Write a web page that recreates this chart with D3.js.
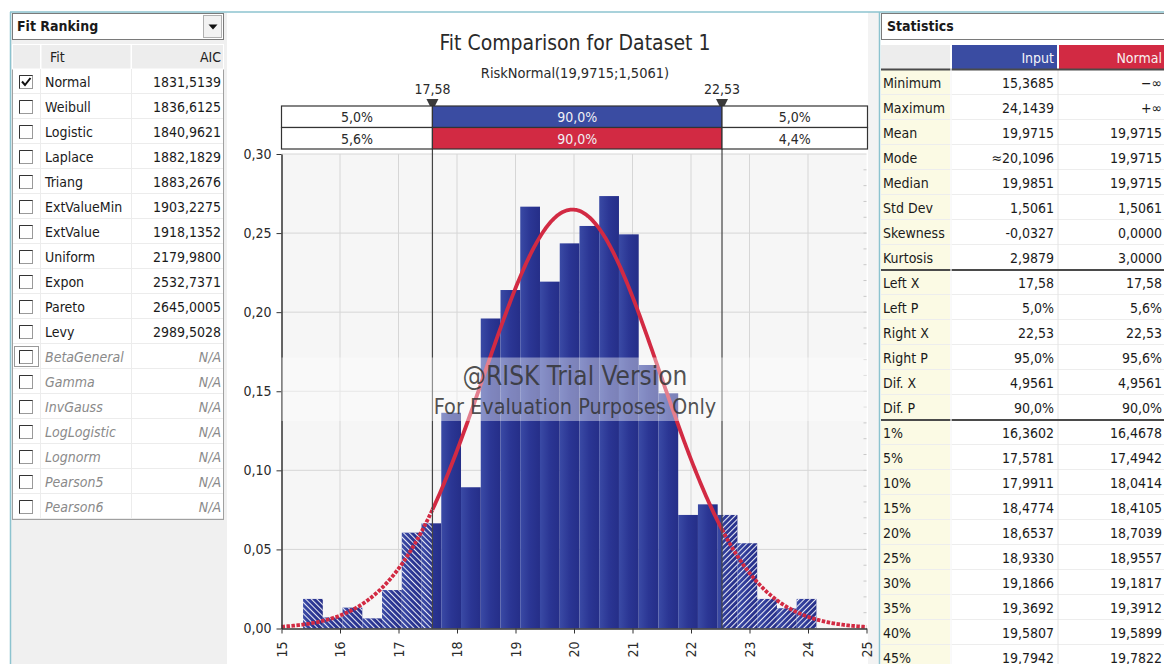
<!DOCTYPE html>
<html>
<head>
<meta charset="utf-8">
<script src="https://cdn.jsdelivr.net/npm/d3@7"></script>
<style>
body{margin:0;background:#fff;}
svg{display:block;}
text{font-family:"DejaVu Sans Condensed","DejaVu Sans",sans-serif;}
</style>
</head>
<body>
<svg id="chart"></svg>
<script>
// ---- data ----
var binStart = 15.3685;
var binEnd = 24.1439;
var binDensity = [0.0187, 0.0070, 0.0132, 0.0064, 0.0243, 0.0606, 0.0665, 0.1364,
                  0.0893, 0.1960, 0.2140, 0.2667, 0.2193, 0.2435, 0.2545, 0.2734,
                  0.2492, 0.1666, 0.1487, 0.0718, 0.0785, 0.0718, 0.0539, 0.0187,
                  0.0128, 0.0187];
var fitMean = 19.9715;
var fitStd = 1.5061;
var leftX = 17.58;
var rightX = 22.53;
var inputPct = ["5,0%", "90,0%", "5,0%"];
var fitPct = ["5,6%", "90,0%", "4,4%"];
var xTicks = [15, 16, 17, 18, 19, 20, 21, 22, 23, 24, 25];
var yTicks = [0, 0.05, 0.10, 0.15, 0.20, 0.25, 0.30];

var fitNames = ["Normal", "Weibull", "Logistic", "Laplace", "Triang", "ExtValueMin", "ExtValue",
                "Uniform", "Expon", "Pareto", "Levy", "BetaGeneral", "Gamma", "InvGauss",
                "LogLogistic", "Lognorm", "Pearson5", "Pearson6"];
var fitAIC = [1831.5139, 1836.6125, 1840.9621, 1882.1829, 1883.2676, 1903.2275, 1918.1352,
              2179.9800, 2532.7371, 2645.0005, 2989.5028, null, null, null, null, null, null, null];

var statLabels = ["Minimum", "Maximum", "Mean", "Mode", "Median", "Std Dev", "Skewness", "Kurtosis",
                  "Left X", "Left P", "Right X", "Right P", "Dif. X", "Dif. P",
                  "1%", "5%", "10%", "15%", "20%", "25%", "30%", "35%", "40%", "45%"];
var inputStats = ["15,3685", "24,1439", "19,9715", "\u224820,1096", "19,9851", "1,5061", "-0,0327", "2,9879",
                  "17,58", "5,0%", "22,53", "95,0%", "4,9561", "90,0%",
                  "16,3602", "17,5781", "17,9911", "18,4774", "18,6537", "18,9330", "19,1866", "19,3692", "19,5807", "19,7942"];
var normalStats = ["\u2212\u221E", "+\u221E", "19,9715", "19,9715", "19,9715", "1,5061", "0,0000", "3,0000",
                   "17,58", "5,6%", "22,53", "95,6%", "4,9561", "90,0%",
                   "16,4678", "17,4942", "18,0414", "18,4105", "18,7039", "18,9557", "19,1817", "19,3912", "19,5899", "19,7822"];

// ---- setup ----
var W = 1164, H = 664;
var BLUE = "#3a4ca2", RED = "#d22a43", TEAL = "#8cc3cf";
var loc = d3.formatLocale({decimal: ",", thousands: "", grouping: [3], currency: ["", ""]});
var svg = d3.select("#chart").attr("width", W).attr("height", H);
var defs = svg.append("defs");

// frame lines
svg.append("rect").attr("x", 10).attr("y", 12).attr("width", 217).attr("height", H - 12).attr("fill", "#f0f0f0");
svg.append("rect").attr("x", 868).attr("y", 12).attr("width", 11).attr("height", H - 12).attr("fill", "#f3f3f3");
svg.append("line").attr("x1", 10).attr("x2", W).attr("y1", 12).attr("y2", 12).attr("stroke", TEAL).attr("stroke-width", 1.5);
svg.append("line").attr("x1", 10.5).attr("x2", 10.5).attr("y1", 12).attr("y2", H).attr("stroke", TEAL).attr("stroke-width", 1.5);
svg.append("line").attr("x1", 879.5).attr("x2", 879.5).attr("y1", 12).attr("y2", H).attr("stroke", TEAL).attr("stroke-width", 1.5);

// ---- left panel: Fit Ranking ----
var lp = svg.append("g");
lp.append("rect").attr("x", 12.5).attr("y", 13.5).attr("width", 211).attr("height", 26)
  .attr("fill", "#fff").attr("stroke", "#7a7a7a");
lp.append("text").attr("x", 17).attr("y", 31).text("Fit Ranking")
  .style("font-size", "14px").style("font-weight", "bold").attr("fill", "#1a1a1a");
lp.append("rect").attr("x", 203.5).attr("y", 15.5).attr("width", 18).attr("height", 22)
  .attr("fill", "#f2f2f2").attr("stroke", "#b0b0b0");
lp.append("path").attr("d", "M208.5,24.5 L217.5,24.5 L213,29.5 Z").attr("fill", "#111");

var tableTop = 44, rowH = 25;
lp.append("rect").attr("x", 12.5).attr("y", tableTop + 0.5).attr("width", 211).attr("height", 25 + rowH * fitNames.length)
  .attr("fill", "#fff").attr("stroke", "#a0a0a0");
// header
[[12.5, 28], [41, 90], [131.5, 92]].forEach(function (c) {
  lp.append("rect").attr("x", c[0]).attr("y", tableTop + 0.5).attr("width", c[1]).attr("height", 24.5)
    .attr("fill", "#ededed").attr("stroke", "#fff");
});
lp.append("text").attr("x", 50).attr("y", 62).text("Fit").style("font-size", "14px").attr("fill", "#222");
lp.append("text").attr("x", 221).attr("y", 62).attr("text-anchor", "end").text("AIC").style("font-size", "14px").attr("fill", "#222");

var rows = lp.selectAll(".fitrow").data(fitNames).enter().append("g")
  .attr("class", "fitrow")
  .attr("transform", function (d, i) { return "translate(0," + (69 + rowH * i) + ")"; });
rows.append("line").attr("x1", 13).attr("x2", 223).attr("y1", rowH - 0.5).attr("y2", rowH - 0.5).attr("stroke", "#ececec");
rows.append("line").attr("x1", 40.5).attr("x2", 40.5).attr("y1", 0).attr("y2", rowH).attr("stroke", "#ececec");
rows.append("line").attr("x1", 131.5).attr("x2", 131.5).attr("y1", 0).attr("y2", rowH).attr("stroke", "#ececec");
rows.append("rect").attr("x", 19.5).attr("y", 6.5).attr("width", 13).attr("height", 13)
  .attr("fill", "#fff").attr("stroke", "#9a9a9a");
rows.append("path").attr("d", "M19.5,19.5 L19.5,6.5 L32.5,6.5").attr("fill", "none").attr("stroke", "#333");
rows.filter(function (d, i) { return i === 0; }).append("path")
  .attr("d", "M22,12.5 L25,16 L30.5,9").attr("fill", "none").attr("stroke", "#111").attr("stroke-width", 2);
rows.filter(function (d) { return d === "BetaGeneral"; }).append("rect")
  .attr("x", 14.5).attr("y", 2.5).attr("width", 24).attr("height", 20)
  .attr("fill", "none").attr("stroke", "#333").attr("stroke-dasharray", "1,1");
rows.append("text").attr("x", 45).attr("y", 17.5).text(function (d) { return d; })
  .style("font-size", "14px")
  .style("font-style", function (d, i) { return fitAIC[i] === null ? "italic" : "normal"; })
  .attr("fill", function (d, i) { return fitAIC[i] === null ? "#8a8a8a" : "#1a1a1a"; });
rows.append("text").attr("x", 221).attr("y", 17.5).attr("text-anchor", "end")
  .text(function (d, i) { return fitAIC[i] === null ? "N/A" : loc.format(".4f")(fitAIC[i]); })
  .style("font-size", "14px")
  .style("font-style", function (d, i) { return fitAIC[i] === null ? "italic" : "normal"; })
  .attr("fill", function (d, i) { return fitAIC[i] === null ? "#8a8a8a" : "#1a1a1a"; });

// ---- center chart ----
var x = d3.scaleLinear().domain([15, 25]).range([281.5, 866.5]);
var y = d3.scaleLinear().domain([0, 0.30]).range([628.5, 154]);

svg.append("text").attr("x", 575).attr("y", 50).attr("text-anchor", "middle")
  .text("Fit Comparison for Dataset 1").style("font-size", "21px").attr("fill", "#2a2a2a");
svg.append("text").attr("x", 575).attr("y", 78).attr("text-anchor", "middle")
  .text("RiskNormal(" + loc.format(".4f")(fitMean) + ";" + loc.format(".4f")(fitStd) + ")")
  .style("font-size", "14.5px").attr("fill", "#2a2a2a");

// plot background and grid
svg.append("rect").attr("x", x(15)).attr("y", y(0.30)).attr("width", x(25) - x(15)).attr("height", y(0) - y(0.30))
  .attr("fill", "#f6f6f6");
svg.append("g").selectAll("line").data(xTicks.slice(1, -1)).enter().append("line")
  .attr("x1", function (d) { return x(d); }).attr("x2", function (d) { return x(d); })
  .attr("y1", y(0.30)).attr("y2", y(0)).attr("stroke", "#d6d6d6");
svg.append("g").selectAll("line").data(yTicks.slice(1)).enter().append("line")
  .attr("x1", x(15)).attr("x2", x(25))
  .attr("y1", function (d) { return y(d); }).attr("y2", function (d) { return y(d); }).attr("stroke", "#d6d6d6");
// faint minor ticks on the right edge
svg.append("g").selectAll("line").data(d3.range(1, 30)).enter().append("line")
  .attr("x1", x(25) - 3).attr("x2", x(25))
  .attr("y1", function (d) { return y(d / 100); }).attr("y2", function (d) { return y(d / 100); })
  .attr("stroke", "#c8c8c8");

// bars
var binW = (binEnd - binStart) / binDensity.length;
var bins = binDensity.map(function (v, i) {
  return {x0: binStart + i * binW, x1: binStart + (i + 1) * binW, v: v};
});
var grad = defs.append("linearGradient").attr("id", "barGrad").attr("x1", 0).attr("x2", 1).attr("y1", 0).attr("y2", 0);
grad.append("stop").attr("offset", 0).attr("stop-color", "#3a4aa5");
grad.append("stop").attr("offset", 0.5).attr("stop-color", "#2b3694");
grad.append("stop").attr("offset", 1).attr("stop-color", "#252e88");

function hatch(id, angle) {
  var p = defs.append("pattern").attr("id", id).attr("patternUnits", "userSpaceOnUse")
    .attr("width", 4).attr("height", 4).attr("patternTransform", "rotate(" + angle + ")");
  p.append("line").attr("x1", 0.5).attr("x2", 0.5).attr("y1", 0).attr("y2", 4)
    .attr("stroke", "#fff").attr("stroke-width", 1.1).attr("stroke-opacity", 0.9);
}
hatch("hatchL", -45);
hatch("hatchR", 45);
defs.append("clipPath").attr("id", "clipL").append("rect")
  .attr("x", x(15)).attr("y", 0).attr("width", x(leftX) - x(15)).attr("height", H);
defs.append("clipPath").attr("id", "clipR").append("rect")
  .attr("x", x(rightX)).attr("y", 0).attr("width", x(25) - x(rightX)).attr("height", H);

function drawBars(g, fill) {
  g.selectAll("rect").data(bins).enter().append("rect")
    .attr("x", function (d) { return x(d.x0); })
    .attr("width", function (d) { return x(d.x1) - x(d.x0); })
    .attr("y", function (d) { return y(d.v); })
    .attr("height", function (d) { return y(0) - y(d.v); })
    .attr("fill", fill);
}
drawBars(svg.append("g"), "url(#barGrad)");
drawBars(svg.append("g").attr("clip-path", "url(#clipL)"), "url(#hatchL)");
drawBars(svg.append("g").attr("clip-path", "url(#clipR)"), "url(#hatchR)");

// fitted normal density, from the parameters shown in the subtitle
function npdf(v) {
  return Math.exp(-0.5 * Math.pow((v - fitMean) / fitStd, 2)) / (fitStd * Math.sqrt(2 * Math.PI));
}
var line = d3.line().x(function (d) { return x(d); }).y(function (d) { return y(npdf(d)); });
function curve(a, b, dash) {
  var pts = d3.range(a, b, 0.02).concat([b]);
  svg.append("path").attr("d", line(pts)).attr("fill", "none")
    .attr("stroke", RED).attr("stroke-width", 3.8)
    .attr("stroke-dasharray", dash ? "3.5,1.5" : null);
}
curve(15, leftX, true);
curve(leftX, rightX, false);
curve(rightX, 25, true);

// axes
var gy = svg.append("g").attr("transform", "translate(" + x(15) + ",0)")
  .call(d3.axisLeft(y).tickValues(yTicks).tickSize(5).tickPadding(5).tickSizeOuter(0)
    .tickFormat(loc.format(".2f")));
gy.select(".domain").attr("stroke", "#333").attr("stroke-width", 1.5);
gy.selectAll(".tick line").attr("stroke", "#333");
gy.selectAll("text").style("font-size", "14px").attr("fill", "#2a2a2a").style("font-family", null);

var gx = svg.append("g").attr("transform", "translate(0," + y(0) + ")")
  .call(d3.axisBottom(x).tickValues(xTicks).tickSize(5).tickSizeOuter(0).tickFormat(d3.format("d")));
gx.select(".domain").attr("stroke", "#333").attr("stroke-width", 1.5);
gx.selectAll(".tick line").attr("stroke", "#333");
gx.selectAll("text").attr("transform", "rotate(-90)").attr("text-anchor", "end")
  .attr("x", -13).attr("y", 0).attr("dy", "0.35em")
  .style("font-size", "14px").attr("fill", "#2a2a2a").style("font-family", null);

// delimiters
[leftX, rightX].forEach(function (v) {
  svg.append("line").attr("x1", x(v)).attr("x2", x(v)).attr("y1", 105).attr("y2", y(0))
    .attr("stroke", "#444").attr("stroke-width", 1.2);
  svg.append("path").attr("d", "M" + (x(v) - 6) + ",99 L" + (x(v) + 6) + ",99 L" + x(v) + ",111 Z").attr("fill", "#3a3a3a");
  svg.append("text").attr("x", x(v)).attr("y", 94).attr("text-anchor", "middle")
    .text(loc.format(".2f")(v)).style("font-size", "14px").attr("fill", "#2a2a2a");
});

// percentage boxes
var segs = [[15, leftX], [leftX, rightX], [rightX, 25]];
[[inputPct, 106, BLUE], [fitPct, 127.5, RED]].forEach(function (r) {
  segs.forEach(function (s, i) {
    var x0 = x(s[0]), x1 = i === 2 ? x(25) + 1 : x(s[1]);
    svg.append("rect").attr("x", x0).attr("y", r[1]).attr("width", x1 - x0).attr("height", 21.5)
      .attr("fill", i === 1 ? r[2] : "#fff").attr("stroke", "#333").attr("stroke-width", 1.2);
    svg.append("text").attr("x", (x0 + x1) / 2).attr("y", r[1] + 16).attr("text-anchor", "middle")
      .text(r[0][i]).style("font-size", "14px").attr("fill", i === 1 ? "#f0f0f4" : "#2a2a2a");
  });
});

// watermark
svg.append("rect").attr("x", x(15)).attr("y", 357.5).attr("width", x(25) - x(15)).attr("height", 63.5)
  .attr("fill", "#fff").attr("fill-opacity", 0.4);
svg.append("text").attr("x", 575).attr("y", 385).attr("text-anchor", "middle").text("@RISK Trial Version")
  .style("font-size", "26px").attr("fill", "#333").attr("fill-opacity", 0.85);
svg.append("text").attr("x", 575).attr("y", 414).attr("text-anchor", "middle").text("For Evaluation Purposes Only")
  .style("font-size", "21.5px").attr("fill", "#333").attr("fill-opacity", 0.85);

// ---- right panel: Statistics ----
var rp = svg.append("g");
rp.append("rect").attr("x", 881.5).attr("y", 13.5).attr("width", 290).attr("height", 26)
  .attr("fill", "#fff").attr("stroke", "#7a7a7a");
rp.append("text").attr("x", 887).attr("y", 31).text("Statistics")
  .style("font-size", "14px").style("font-weight", "bold").attr("fill", "#1a1a1a");
rp.append("rect").attr("x", 881).attr("y", 45).attr("width", 69).attr("height", 24).attr("fill", "#ededed");
rp.append("rect").attr("x", 952).attr("y", 45).attr("width", 105).attr("height", 24).attr("fill", BLUE);
rp.append("rect").attr("x", 1059).attr("y", 45).attr("width", 110).attr("height", 24).attr("fill", RED);
rp.append("text").attr("x", 1054).attr("y", 63).attr("text-anchor", "end").text("Input")
  .style("font-size", "14px").attr("fill", "#f4f4f8");
rp.append("text").attr("x", 1162).attr("y", 63).attr("text-anchor", "end").text("Normal")
  .style("font-size", "14px").attr("fill", "#f8f0f0");

var srows = rp.selectAll(".srow").data(statLabels).enter().append("g")
  .attr("class", "srow")
  .attr("transform", function (d, i) { return "translate(0," + (70 + rowH * i) + ")"; });
srows.append("rect").attr("x", 881).attr("y", 0).attr("width", 69).attr("height", rowH).attr("fill", "#fbfae4");
srows.append("line").attr("x1", 881).attr("x2", W).attr("y1", rowH - 0.5).attr("y2", rowH - 0.5).attr("stroke", "#ededed");
srows.append("line").attr("x1", 951).attr("x2", 951).attr("y1", 0).attr("y2", rowH).attr("stroke", "#e4e4e4");
srows.append("line").attr("x1", 1058).attr("x2", 1058).attr("y1", 0).attr("y2", rowH).attr("stroke", "#e4e4e4");
srows.append("text").attr("x", 883).attr("y", 17.5).text(function (d) { return d; })
  .style("font-size", "14px").attr("fill", "#1a1a1a");
srows.append("text").attr("x", 1054).attr("y", 17.5).attr("text-anchor", "end")
  .text(function (d, i) { return inputStats[i]; }).style("font-size", "14px").attr("fill", "#1a1a1a");
srows.append("text").attr("x", 1162).attr("y", 17.5).attr("text-anchor", "end")
  .text(function (d, i) { return normalStats[i]; }).style("font-size", "14px").attr("fill", "#1a1a1a");
[69.5, 270, 420].forEach(function (yy) {
  rp.append("line").attr("x1", 881).attr("x2", W).attr("y1", yy).attr("y2", yy)
    .attr("stroke", "#4a4a4a").attr("stroke-width", 2);
});
rp.append("line").attr("x1", 951).attr("x2", 951).attr("y1", 45).attr("y2", H).attr("stroke", "#fff").attr("stroke-width", 2).attr("stroke-opacity", 0.6);
</script>
</body>
</html>
